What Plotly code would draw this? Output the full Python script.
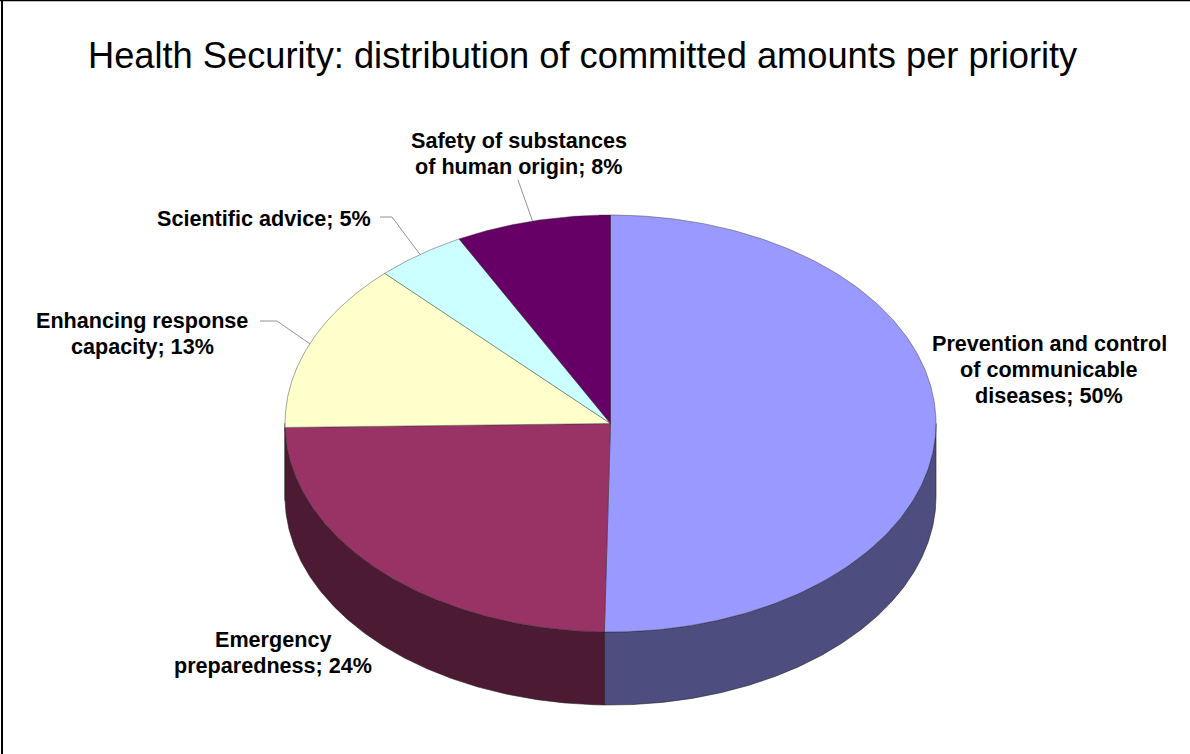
import numpy as np
import plotly.graph_objects as go

categories = ["Prevention and control<br>of communicable<br>diseases; 50%",
              "Emergency<br>preparedness; 24%",
              "Enhancing response<br>capacity; 13%",
              "Scientific advice; 5%",
              "Safety of substances<br>of human origin; 8%"]
shares = [50.3, 24.4, 13.1, 4.5, 7.7]
top_colors = ["#9999FF", "#993366", "#FFFFCC", "#CCFFFF", "#660066"]
side_colors = ["#4D4D80", "#4D1A33", "#808066", "#668080", "#330033"]
title_text = "Health Security: distribution of committed amounts per priority"

W, H = 1190, 754
CX, CY, RX, RY, DEPTH = 610.5, 423.5, 325.5, 208.5, 73

def rim(theta):
    return CX + RX * np.sin(theta), CY - RY * np.cos(theta)

edges = np.concatenate([[0], np.cumsum(shares)]) / sum(shares) * 2 * np.pi
fig = go.Figure()
line_col = "rgba(40,40,40,0.7)"

# side walls (only the front half of the pie shows)
for i in range(len(shares)):
    a, b = max(edges[i], np.pi / 2), min(edges[i + 1], 3 * np.pi / 2)
    if a >= b:
        continue
    t = np.linspace(a, b, 200)
    x, y = rim(t)
    fig.add_trace(go.Scatter(
        x=np.concatenate([x, x[::-1], x[:1]]),
        y=np.concatenate([y, y[::-1] + DEPTH, y[:1]]),
        mode="lines", fill="toself", fillcolor=side_colors[i],
        line=dict(color="#222", width=0.6), hoverinfo="skip", showlegend=False))

# top face
for i in range(len(shares)):
    t = np.linspace(edges[i], edges[i + 1], 200)
    x, y = rim(t)
    fig.add_trace(go.Scatter(
        x=np.concatenate([[CX], x, [CX]]),
        y=np.concatenate([[CY], y, [CY]]),
        mode="lines", fill="toself", fillcolor=top_colors[i],
        line=dict(color=line_col, width=0.6),
        name=categories[i].replace("<br>", " "), hoverinfo="name", showlegend=False))

# leader lines: from label elbow to the middle of the slice rim
mids = (edges[:-1] + edges[1:]) / 2
leaders = {2: [(260, 321), (277, 321)], 3: [(380, 217), (392, 217)], 4: [(518, 180)]}
for i, pts in leaders.items():
    ex, ey = rim(mids[i])
    fig.add_trace(go.Scatter(
        x=[p[0] for p in pts] + [ex], y=[p[1] for p in pts] + [ey],
        mode="lines", line=dict(color="#777", width=0.8),
        hoverinfo="skip", showlegend=False))

# one annotation per text line, so the line pitch can stay at 26 px
label_pos = [(1049, 343), (273, 639), (142, 320), (264, 218), (519, 140)]
for text, (lx, ly) in zip(categories, label_pos):
    for k, part in enumerate(text.split("<br>")):
        fig.add_annotation(x=lx, y=ly + 26 * k, xref="x", yref="y", text=part, showarrow=False,
                           xanchor="center", yanchor="middle", align="center",
                           font=dict(family="Liberation Sans", size=21.6, color="#000", weight=700))

fig.update_layout(
    width=W, height=H, margin=dict(l=0, r=0, t=0, b=0),
    paper_bgcolor="white", plot_bgcolor="white", showlegend=False,
    title=dict(text=title_text, x=88 / W, xanchor="left", y=1 - 55 / H, yanchor="middle",
               font=dict(family="Liberation Sans", size=36.25, color="#000")),
    xaxis=dict(range=[0, W], visible=False, fixedrange=True),
    yaxis=dict(range=[H, 0], visible=False, fixedrange=True),
    shapes=[dict(type="line", xref="x", yref="y", x0=2, y0=0, x1=2, y1=H,
                 line=dict(color="#000", width=2)),
            dict(type="line", xref="x", yref="y", x0=0, y0=0.5, x1=W, y1=0.5,
                 line=dict(color="#000", width=1.5))],
)
fig.write_html("out.html", config={"displayModeBar": False},
               post_script="document.body.style.margin='0';document.documentElement.style.overflow='hidden';")
